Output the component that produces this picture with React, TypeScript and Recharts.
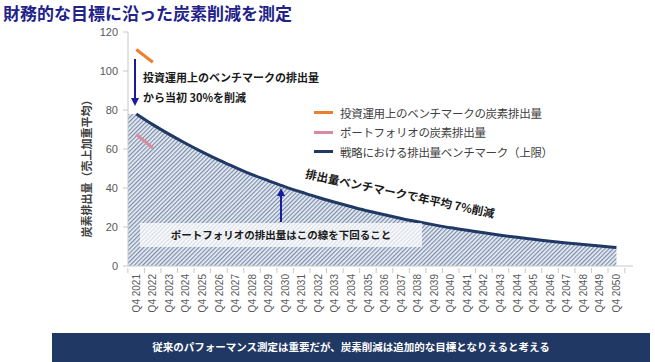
import { ComposedChart, Area, Line, XAxis, YAxis } from "recharts";

const categories = [
  "Q4 2021", "Q4 2022", "Q4 2023", "Q4 2024", "Q4 2025", "Q4 2026", "Q4 2027", "Q4 2028",
  "Q4 2029", "Q4 2030", "Q4 2031", "Q4 2032", "Q4 2033", "Q4 2034", "Q4 2035", "Q4 2036",
  "Q4 2037", "Q4 2038", "Q4 2039", "Q4 2040", "Q4 2041", "Q4 2042", "Q4 2043", "Q4 2044",
  "Q4 2045", "Q4 2046", "Q4 2047", "Q4 2048", "Q4 2049", "Q4 2050",
];

// strategy emission benchmark (upper limit)
const strategyBenchmark = [
  78, 72.5, 67.5, 62.8, 58.4, 54.3, 50.5, 46.9, 43.7, 40.6,
  37.8, 35.1, 32.7, 30.4, 28.2, 26.3, 24.4, 22.7, 21.1, 19.6,
  18.3, 17.0, 15.8, 14.7, 13.7, 12.7, 11.8, 11.0, 10.2, 9.5,
];
const investmentBenchmark = [111, 104.5];
const portfolioEmissions = [67.5, 60.5];
const yTicks = [0, 20, 40, 60, 80, 100, 120];

const legendItems = [
  { label: "投資運用上のベンチマークの炭素排出量", color: "#ED7D31" },
  { label: "ポートフォリオの炭素排出量", color: "#D98AA0" },
  { label: "戦略における排出量ベンチマーク（上限）", color: "#1F3864" },
];

const data = [
  { x: -0.5, area: strategyBenchmark[0] },
  ...categories.map((c, i) => ({
    x: i,
    cat: c,
    area: strategyBenchmark[i],
    strategy: strategyBenchmark[i],
    invest: investmentBenchmark[i] ?? null,
    portfolio: portfolioEmissions[i] ?? null,
  })),
];

const JP = "'Noto Sans CJK JP', 'Noto Sans', sans-serif";
const NUM = "'Liberation Sans', Arial, sans-serif";
const HALF_BAND = 505 / 60;

function CategoryTick(props: any) {
  const { x, y, payload, index } = props;
  const label = categories[payload.value] ?? "";
  return (
    <g>
      <line x1={x - HALF_BAND} x2={x - HALF_BAND} y1={y} y2={y + 5} stroke="#c8c8c8" />
      {index === categories.length - 1 && (
        <line x1={x + HALF_BAND} x2={x + HALF_BAND} y1={y} y2={y + 5} stroke="#c8c8c8" />
      )}
      <text
        x={x}
        y={y + 6}
        dy="0.35em"
        transform={`rotate(-90, ${x}, ${y + 6})`}
        textAnchor="end"
        fontSize={10}
        fill="#595959"
        fontFamily={NUM}
      >
        {label}
      </text>
    </g>
  );
}

function LegendBox() {
  return (
    <div style={{ position: "absolute", left: 314, top: 103, fontFamily: JP, fontSize: 11.5, color: "#404040" }}>
      {legendItems.map((it) => (
        <div key={it.label} style={{ display: "flex", alignItems: "center", height: 19.5, whiteSpace: "nowrap" }}>
          <span style={{ display: "inline-block", width: 19, height: 3, background: it.color, marginRight: 7 }} />
          <span style={{ letterSpacing: -0.3 }}>{it.label}</span>
        </div>
      ))}
    </div>
  );
}

export default function App() {
  return (
    <div style={{ position: "absolute", left: 0, top: 0, width: 655, height: 362, background: "#fff" }}>
      <ComposedChart width={655} height={362} data={data} margin={{ top: 32, right: 22, left: 88, bottom: 46 }}>
        <defs>
          <pattern id="hatch" patternUnits="userSpaceOnUse" width={3} height={3} patternTransform="rotate(45)">
            <rect width={3} height={3} fill="#e8edf3" />
            <rect width={1.2} height={3} fill="#7a8cab" />
          </pattern>
        </defs>
        <XAxis
          type="number"
          dataKey="x"
          domain={[-0.5, 29.5]}
          ticks={categories.map((_, i) => i)}
          interval={0}
          tick={<CategoryTick />}
          tickLine={false}
          tickSize={0}
          height={50}
          stroke="#c8c8c8"
          allowDecimals={false}
        />
        <YAxis
          domain={[0, 120]}
          ticks={yTicks}
          width={40}
          tickSize={5}
          tickMargin={5}
          stroke="#c8c8c8"
          tick={{ fill: "#595959", fontSize: 11, fontFamily: NUM }}
        />
        <Area
          dataKey="area"
          type="linear"
          stroke="none"
          fill="url(#hatch)"
          fillOpacity={1}
          isAnimationActive={false}
        />
        <Line dataKey="invest" type="linear" stroke="#ED7D31" strokeWidth={3} dot={false} isAnimationActive={false} />
        <Line dataKey="portfolio" type="linear" stroke="#D98AA0" strokeWidth={3} dot={false} isAnimationActive={false} />
        <Line dataKey="strategy" type="monotone" stroke="#1F3864" strokeWidth={3} dot={false} isAnimationActive={false} />
      </ComposedChart>

      <LegendBox />

      <svg width={655} height={362} style={{ position: "absolute", left: 0, top: 0, pointerEvents: "none" }}>
        <text x={3} y={20} fontSize={17} fontWeight="bold" fill="#22228a" fontFamily={JP}>
          財務的な目標に沿った炭素削減を測定
        </text>

        <text
          x={87}
          y={166}
          transform="rotate(-90, 87, 166)"
          textAnchor="middle"
          dy="0.35em"
          fontSize={11}
          fontWeight="bold"
          fill="#404040"
          fontFamily={JP}
        >
          炭素排出量（売上加重平均）
        </text>

        {/* down arrow: benchmark to strategy */}
        <line x1={135} y1={59} x2={135} y2={99} stroke="#1a1aa0" strokeWidth={2} />
        <polygon points="131,98 139,98 135,106" fill="#1a1aa0" />
        <text x={143} y={82} fontSize={11} fontWeight="bold" fill="#1a1a1a" fontFamily={JP}>
          投資運用上のベンチマークの排出量
        </text>
        <text x={143} y={102} fontSize={11} fontWeight="bold" fill="#1a1a1a" fontFamily={JP}>
          から当初 30%を削減
        </text>

        <text
          x={400}
          y={198}
          transform="rotate(12, 400, 194)"
          textAnchor="middle"
          fontSize={11.5}
          fontWeight="bold"
          fill="#1a1a1a"
          fontFamily={JP}
        >
          排出量ベンチマークで年平均 7%削減
        </text>

        <rect x={140} y={223} width={282} height={24} fill="#ffffff" fillOpacity={0.72} />
        <line x1={281} y1={222} x2={281} y2={195} stroke="#1a1aa0" strokeWidth={2} />
        <polygon points="277,196 285,196 281,188" fill="#1a1aa0" />
        <text x={281} y={239} textAnchor="middle" fontSize={10.5} fontWeight="bold" fill="#1a1a1a" fontFamily={JP}>
          ポートフォリオの排出量はこの線を下回ること
        </text>

        <rect x={52} y={333} width={598} height={29} fill="#1F3864" />
        <text x={351} y={351} textAnchor="middle" fontSize={10.5} fontWeight="bold" fill="#ffffff" fontFamily={JP}>
          従来のパフォーマンス測定は重要だが、炭素削減は追加的な目標となりえると考える
        </text>
      </svg>
    </div>
  );
}
